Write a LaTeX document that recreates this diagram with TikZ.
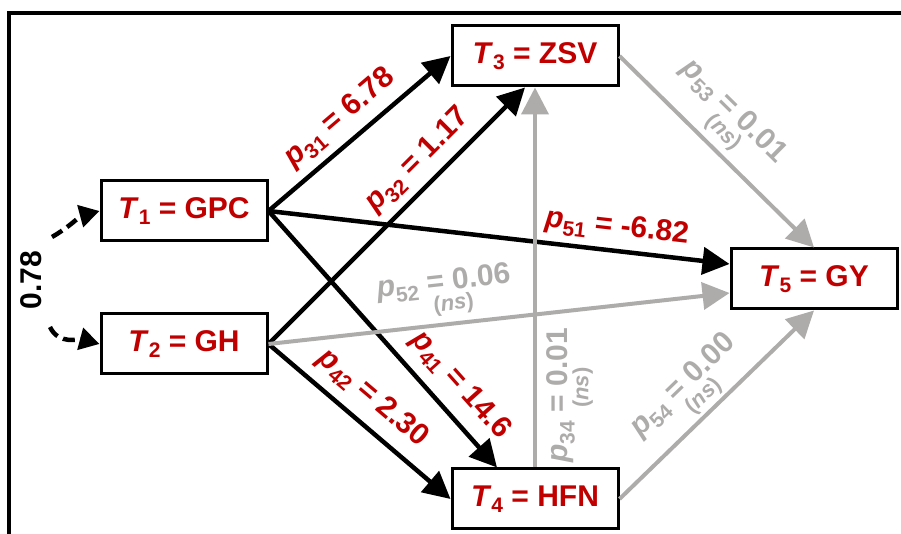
\documentclass[tikz,border=0pt]{standalone}
\usepackage{fontspec}
\setmainfont{Liberation Sans}
\usepackage{xcolor}
\usepackage{tikz}
\usetikzlibrary{arrows.meta}
\definecolor{pathred}{RGB}{192,0,0}
\definecolor{nsgray}{RGB}{174,171,171}
\newcommand{\lowsub}[1]{\raisebox{-0.22em}{\fontsize{21}{21}\selectfont #1}}
\newcommand{\nsmark}{\makebox[0pt][l]{\hspace{0.15em}\raisebox{-0.68em}[0pt][0pt]{\fontsize{22}{22}\selectfont(\textit{ns})}}}
\newcommand{\trait}[2]{\textit{T}\lowsub{#1} = #2}
\newcommand{\coef}[2]{\textit{p}\lowsub{#1} = #2}
\newcommand{\coefns}[2]{\textit{p}\lowsub{#1} \nsmark= #2}
\tikzset{
  traitbox/.style={draw, line width=3pt, minimum width=166pt, minimum height=60pt, inner sep=0pt, text=pathred, font=\fontsize{30}{36}\selectfont\bfseries},
  sig/.style={line width=4.5pt, -{Triangle[length=27pt,width=27pt]}},
  nonsig/.style={line width=4pt, nsgray, -{Triangle[length=27pt,width=27pt]}},
  corr/.style={line width=4.5pt, dash pattern=on 12pt off 6pt, -{Triangle[length=20pt,width=22pt]}},
  coeflabel/.style={sloped, inner sep=0pt, font=\fontsize{30}{36}\selectfont\bfseries},
  siglabel/.style={coeflabel, text=pathred}
}

\begin{document}
\begin{tikzpicture}[x=1pt,y=1pt]
\useasboundingbox (0,0) rectangle (901,534);
\draw[line width=3.5pt] (9,0) -- (9,521) -- (901,521);

\node[traitbox] (T1) at (184,323) {\trait{1}{GPC}};
\node[traitbox] (T2) at (184,190) {\trait{2}{GH}};
\node[traitbox] (T3) at (535,478) {\trait{3}{ZSV}};
\node[traitbox] (T4) at (535,35) {\trait{4}{HFN}};
\node[traitbox] (T5) at (814,255) {\trait{5}{GY}};

\node[rotate=90, inner sep=0pt, font=\fontsize{30}{36}\selectfont\bfseries] (r12) at (31,254) {0.78};
\coordinate (c1) at (52,297);
\coordinate (c2) at (50,207);
\draw[corr] (c1) to[out=30,in=195] (T1.west);
\draw[corr] (c2) to[out=-65,in=165] (T2.west);

\draw[sig] (T1.east) -- node[siglabel, pos=.48, above=8pt] {\coef{31}{6.78}} (T3.west);
\draw[sig] (T2.east) -- node[siglabel, pos=.65, above=8pt] {\coef{32}{1.17}} ([xshift=-10pt]T3.south);
\draw[sig] (T1.east) -- node[siglabel, pos=.75, above=7pt] {\coef{51}{-6.82}} ([yshift=15pt]T5.west);
\draw[sig] (T1.east) -- node[siglabel, pos=.75, above=11pt] {\coef{41}{14.6}} ([xshift=-38pt]T4.north);
\draw[sig] (T2.east) -- node[siglabel, pos=.48, above=10pt] {\coef{42}{2.30}} (T4.west);

\draw[nonsig] (T2.east) -- node[coeflabel, pos=.39, above=25pt] {\coefns{52}{0.06}} ([yshift=-14pt]T5.west);
\draw[nonsig] (T4.north) -- node[coeflabel, pos=.19, below=10pt] {\coefns{34}{0.01}} (T3.south);
\draw[nonsig] (T3.east) -- node[coeflabel, pos=.44, above=24pt] {\coefns{53}{0.01}} (T5.north);
\draw[nonsig] (T4.east) -- node[coeflabel, pos=.46, above=21pt] {\coefns{54}{0.00}} (T5.south);
\end{tikzpicture}
\end{document}
